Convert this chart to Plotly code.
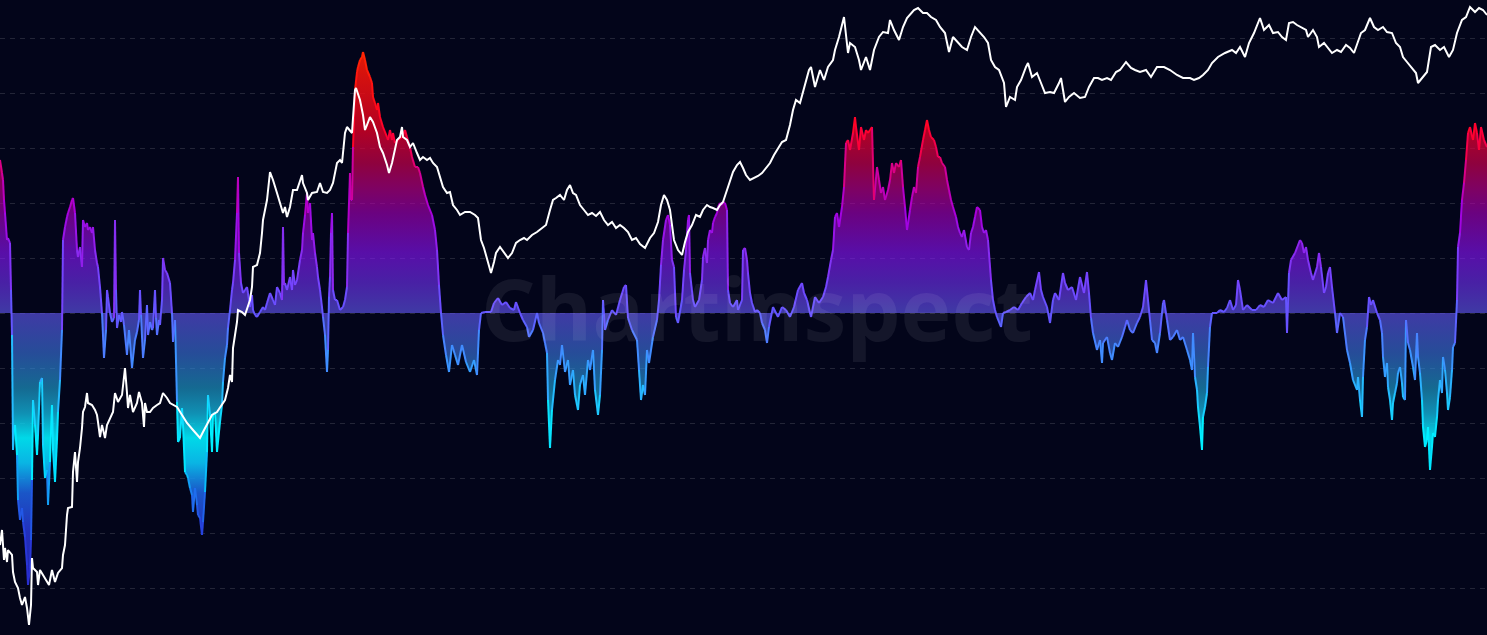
import plotly.graph_objects as go

# ---------------- data ----------------
# oscillator: day index and value (arbitrary units, 0 = neutral)
osc_day = [
    0, 2, 3, 4, 5, 7, 8, 10, 11, 12,
    13, 14, 15, 17, 18, 20, 22, 23, 25, 27,
    28, 30, 31, 32, 33, 35, 37, 38, 40, 42,
    43, 45, 47, 48, 50, 52, 53, 55, 57, 58,
    60, 62, 63, 65, 67, 68, 70, 72, 73, 75,
    77, 78, 80, 82, 83, 85, 87, 88, 90, 92,
    93, 95, 97, 98, 100, 102, 104, 106, 107, 108,
    110, 112, 114, 115, 116, 117, 119, 121, 122, 124,
    127, 129, 132, 133, 135, 137, 139, 140, 141, 143,
    145, 147, 148, 150, 152, 153, 155, 156, 157, 159,
    160, 162, 163, 165, 167, 170, 172, 173, 175, 177,
    178, 180, 182, 183, 185, 187, 188, 190, 192, 193,
    195, 197, 198, 200, 202, 203, 205, 207, 208, 210,
    212, 213, 215, 217, 218, 220, 222, 223, 225, 227,
    228, 230, 232, 233, 235, 237, 238, 239, 241, 243,
    245, 247, 248, 250, 252, 253, 255, 257, 260, 263,
    265, 267, 270, 273, 275, 277, 280, 282, 283, 284,
    285, 287, 290, 292, 293, 295, 297, 300, 302, 303,
    305, 307, 308, 310, 312, 313, 315, 317, 318, 320,
    322, 323, 325, 327, 328, 329, 330, 331, 332, 333,
    335, 337, 340, 343, 345, 347, 348, 350, 351, 352,
    353, 355, 357, 358, 360, 362, 363, 365, 367, 370,
    372, 373, 375, 377, 378, 380, 383, 387, 388, 390,
    392, 393, 395, 398, 402, 405, 407, 410, 412, 415,
    418, 420, 423, 425, 428, 432, 435, 437, 439, 441,
    443, 446, 449, 452, 455, 458, 462, 466, 470, 474,
    477, 479, 481, 485, 491, 494, 498, 502, 506, 510,
    514, 516, 520, 523, 527, 529, 533, 537, 539, 543,
    545, 547, 548, 550, 552, 555, 558, 560, 562, 565,
    568, 570, 573, 575, 578, 580, 583, 585, 588, 590,
    593, 595, 598, 600, 602, 603, 605, 608, 612, 616,
    620, 624, 626, 628, 632, 637, 639, 641, 643, 645,
    647, 649, 653, 657, 659, 661, 663, 666, 668, 670,
    672, 674, 676, 678, 682, 684, 686, 688, 689, 690,
    693, 695, 699, 702, 703, 705, 707, 708, 710, 712,
    713, 715, 717, 718, 720, 722, 723, 725, 727, 728,
    730, 733, 737, 738, 742, 743, 745, 747, 748, 750,
    752, 755, 757, 760, 762, 765, 767, 769, 773, 778,
    782, 786, 790, 794, 798, 802, 804, 807, 811, 815,
    819, 823, 826, 828, 831, 833, 835, 837, 839, 842,
    844, 846, 848, 850, 853, 855, 856, 859, 861, 864,
    866, 868, 870, 872, 874, 877, 879, 881, 883, 885,
    888, 890, 892, 894, 896, 899, 901, 903, 905, 907,
    910, 912, 914, 916, 918, 920, 923, 925, 927, 929,
    931, 934, 936, 938, 940, 942, 945, 947, 949, 951,
    953, 956, 958, 960, 962, 964, 967, 969, 971, 973,
    975, 977, 980, 982, 984, 986, 988, 991, 993, 995,
    997, 1001, 1003, 1006, 1010, 1014, 1018, 1022, 1026, 1030,
    1033, 1035, 1039, 1041, 1043, 1047, 1050, 1053, 1055, 1059,
    1063, 1065, 1068, 1072, 1076, 1080, 1084, 1087, 1089, 1091,
    1093, 1097, 1100, 1102, 1103, 1107, 1110, 1112, 1115, 1118,
    1122, 1125, 1127, 1130, 1133, 1137, 1140, 1143, 1146, 1148,
    1150, 1152, 1155, 1157, 1160, 1163, 1164, 1167, 1170, 1173,
    1177, 1180, 1183, 1187, 1190, 1192, 1193, 1195, 1197, 1198,
    1200, 1202, 1203, 1205, 1207, 1208, 1210, 1212, 1217, 1220,
    1224, 1227, 1230, 1233, 1236, 1238, 1240, 1243, 1247, 1252,
    1256, 1260, 1264, 1268, 1273, 1278, 1282, 1286, 1287, 1289,
    1291, 1295, 1300, 1302, 1304, 1306, 1308, 1311, 1313, 1317,
    1319, 1321, 1324, 1326, 1328, 1330, 1332, 1335, 1337, 1340,
    1343, 1347, 1350, 1353, 1357, 1358, 1360, 1362, 1363, 1365,
    1367, 1369, 1371, 1373, 1377, 1380, 1382, 1383, 1385, 1387,
    1388, 1390, 1392, 1393, 1395, 1397, 1398, 1400, 1402, 1403,
    1405, 1406, 1408, 1410, 1413, 1415, 1417, 1418, 1420, 1422,
    1423, 1425, 1427, 1428, 1430, 1432, 1433, 1435, 1437, 1438,
    1440, 1442, 1443, 1445, 1447, 1448, 1450, 1452, 1453, 1455,
    1457, 1458, 1460, 1462, 1464, 1466, 1468, 1470, 1473, 1475,
    1477, 1479, 1481, 1484, 1487,
]
osc_val = [
    153, 140, 133, 113, 100, 73, 75, 70, 23, -22,
    -137, -117, -112, -142, -187, -207, -195, -209, -224, -252,
    -272, -255, -227, -167, -87, -112, -142, -122, -69, -65,
    -132, -165, -157, -192, -149, -92, -137, -169, -127, -99,
    -67, -17, 73, 86, 96, 100, 106, 113, 115, 100,
    63, 56, 66, 46, 93, 86, 90, 83, 86, 80,
    86, 63, 50, 46, 26, 0, -45, -17, 23, 16,
    0, -9, -5, 93, 23, -15, -2, -9, 1, -12,
    -42, -17, -55, -45, -27, -19, -7, 23, -2, -45,
    -27, 8, -22, -9, -17, -15, 23, -5, -22, -7,
    -12, 13, 55, 43, 40, 30, 0, -29, -7, -89,
    -129, -125, -95, -112, -159, -162, -165, -175, -182, -199,
    -175, -192, -202, -205, -222, -209, -179, -139, -82, -102,
    -139, -102, -99, -139, -129, -109, -92, -69, -45, -32,
    -15, 3, 23, 30, 53, 100, 136, 60, 30, 20,
    23, 26, 20, 6, 18, 3, -2, -4, 1, 6,
    3, 10, 20, 13, 8, 26, 20, 13, 86, 28,
    30, 23, 36, 23, 43, 28, 33, 53, 63, 80,
    98, 120, 100, 110, 73, 80, 60, 46, 36, 23,
    6, -4, -22, -59, -37, 16, 36, 80, 100, 23,
    13, 13, 3, 6, 13, 26, 80, 140, 113, 113,
    166, 223, 241, 246, 253, 256, 261, 253, 243, 236,
    230, 216, 210, 203, 210, 196, 186, 176, 173, 183,
    173, 180, 170, 173, 176, 183, 176, 166, 156, 146,
    146, 140, 126, 118, 108, 98, 83, 63, 28, 0,
    -22, -42, -59, -32, -42, -52, -32, -49, -59, -47,
    -62, -17, 0, 1, 1, 10, 15, 8, 11, 5,
    3, 11, 0, -7, -14, -24, -17, 0, -10, -20,
    -30, -40, -87, -135, -97, -67, -47, -52, -32, -59,
    -47, -72, -57, -82, -97, -72, -62, -82, -47, -57,
    -37, -77, -102, -82, -37, 13, -17, -7, 3, -2,
    13, 26, 28, -5, -17, -27, -57, -87, -72, -82,
    -37, -50, -24, -7, 13, 48, 73, 93, 98, 88,
    53, 46, -4, -10, 13, 43, 63, 93, 98, 40,
    13, 6, 13, 33, 56, 65, 50, 73, 83, 80,
    90, 96, 100, 106, 110, 108, 111, 110, 103, 23,
    10, 6, 13, 3, 13, 63, 65, 53, 40, 20,
    10, 1, 3, 0, -10, -17, -30, -14, 6, -4,
    6, 3, -4, 6, 23, 30, 20, 13, -4, 16,
    10, 16, 26, 36, 53, 63, 96, 100, 86, 106,
    126, 170, 173, 163, 180, 196, 186, 163, 186, 173,
    183, 180, 183, 186, 113, 146, 133, 120, 126, 113,
    123, 133, 150, 140, 150, 146, 153, 126, 106, 83,
    103, 116, 126, 120, 146, 156, 173, 183, 193, 183,
    176, 173, 166, 156, 156, 150, 146, 133, 123, 113,
    106, 96, 86, 80, 76, 83, 66, 63, 80, 86,
    96, 106, 103, 86, 80, 83, 73, 33, 13, 3,
    -4, -14, 0, 1, 3, 6, 3, 10, 16, 20,
    13, 23, 41, 23, 16, 6, -10, 13, 20, 13,
    40, 30, 23, 26, 13, 36, 20, 41, 20, -5,
    -20, -37, -27, -50, -30, -24, -40, -47, -30, -34,
    -24, -14, -7, -17, -20, -10, -4, 6, 33, 13,
    -7, -27, -30, -40, -20, 10, 13, -7, -27, -24,
    -17, -27, -24, -37, -47, -57, -20, -64, -77, -94,
    -114, -137, -104, -94, -80, -54, -14, 0, 0, 3,
    1, 5, 13, 3, 8, 33, 23, 3, 8, 3,
    3, 8, 6, 13, 10, 20, 13, 16, -20, 40,
    53, 60, 73, 70, 60, 66, 53, 40, 33, 46,
    60, 46, 20, 26, 40, 46, 26, 0, -20, 0,
    -4, -37, -50, -67, -77, -64, -87, -104, -64, -27,
    -14, 16, 8, 13, 0, -7, -20, -44, -64, -50,
    -74, -87, -107, -90, -80, -70, -60, -54, -70, -84,
    -87, -7, -30, -37, -54, -67, -20, -44, -60, -87,
    -114, -134, -127, -114, -157, -134, -120, -124, -104, -87,
    -67, -80, -44, -57, -80, -97, -84, -57, -34, -30,
    13, 66, 80, 113, 130, 153, 180, 186, 173, 190,
    180, 163, 186, 173, 166,
]

# price series: day index and price level (arbitrary units)
price_day = [
    0, 2, 4, 5, 7, 8, 12, 13, 15, 18,
    20, 22, 25, 27, 29, 31, 32, 33, 37, 38,
    40, 43, 47, 49, 52, 55, 58, 62, 63, 65,
    67, 68, 72, 73, 75, 77, 78, 80, 82, 83,
    85, 87, 88, 92, 95, 97, 98, 100, 102, 103,
    105, 107, 110, 113, 115, 118, 122, 125, 127, 128,
    130, 133, 137, 139, 142, 144, 145, 147, 150, 153,
    157, 160, 163, 167, 170, 173, 177, 182, 187, 193,
    200, 203, 207, 212, 217, 222, 225, 228, 230, 232,
    233, 235, 237, 238, 242, 245, 250, 252, 253, 257,
    260, 262, 263, 265, 267, 270, 273, 277, 280, 283,
    285, 287, 290, 293, 297, 300, 302, 303, 307, 308,
    312, 317, 320, 323, 327, 330, 333, 337, 340, 342,
    345, 347, 348, 352, 353, 355, 356, 358, 360, 363,
    365, 367, 370, 373, 377, 380, 383, 387, 389, 392,
    395, 397, 400, 402, 403, 407, 410, 413, 417, 420,
    423, 427, 430, 433, 437, 440, 443, 447, 450, 453,
    457, 460, 465, 470, 475, 478, 481, 484, 487, 491,
    494, 496, 500, 504, 508, 512, 516, 520, 524, 527,
    532, 537, 542, 546, 550, 553, 556, 560, 564, 567,
    570, 573, 576, 580, 584, 588, 592, 596, 600, 604,
    608, 612, 616, 620, 624, 628, 632, 636, 640, 645,
    650, 654, 658, 661, 664, 667, 670, 674, 678, 682,
    685, 688, 692, 696, 700, 703, 707, 710, 713, 717,
    720, 723, 727, 730, 733, 737, 740, 743, 746, 750,
    754, 758, 762, 766, 770, 774, 778, 782, 786, 790,
    793, 796, 800, 804, 809, 811, 815, 820, 824, 828,
    833, 835, 839, 844, 846, 848, 850, 855, 859, 861,
    866, 870, 874, 879, 883, 888, 890, 894, 899, 903,
    907, 914, 918, 923, 927, 931, 936, 940, 945, 949,
    953, 958, 962, 967, 971, 975, 980, 984, 988, 991,
    995, 999, 1004, 1006, 1010, 1015, 1017, 1021, 1026, 1028,
    1032, 1037, 1041, 1045, 1050, 1054, 1059, 1061, 1063, 1065,
    1069, 1074, 1080, 1085, 1089, 1094, 1098, 1102, 1107, 1111,
    1116, 1120, 1126, 1131, 1135, 1140, 1146, 1151, 1157, 1164,
    1170, 1177, 1183, 1190, 1194, 1199, 1203, 1208, 1212, 1218,
    1225, 1232, 1236, 1240, 1245, 1249, 1254, 1258, 1260, 1264,
    1269, 1273, 1278, 1282, 1286, 1289, 1293, 1297, 1302, 1306,
    1308, 1313, 1317, 1319, 1324, 1328, 1332, 1337, 1341, 1346,
    1350, 1354, 1357, 1361, 1365, 1370, 1374, 1378, 1383, 1387,
    1392, 1396, 1400, 1403, 1407, 1411, 1416, 1418, 1422, 1427,
    1431, 1435, 1440, 1444, 1449, 1453, 1457, 1462, 1466, 1470,
    1475, 1479, 1483, 1487,
]
price_val = [
    90, 105, 75, 87, 73, 85, 80, 63, 53, 47,
    37, 30, 38, 27, 10, 30, 77, 67, 63, 50,
    65, 60, 53, 50, 65, 53, 62, 67, 80, 90,
    120, 127, 128, 163, 183, 153, 173, 187, 207, 223,
    228, 242, 232, 230, 225, 220, 213, 198, 210, 205,
    197, 210, 217, 223, 242, 233, 240, 267, 242, 227,
    240, 223, 232, 243, 232, 208, 232, 223, 223, 227,
    230, 232, 242, 237, 232, 230, 228, 220, 212, 205,
    197, 203, 210, 220, 223, 230, 235, 247, 260, 253,
    287, 300, 313, 325, 323, 320, 335, 348, 368, 370,
    382, 402, 415, 425, 435, 463, 455, 442, 432, 422,
    428, 418, 428, 445, 445, 453, 460, 452, 442, 435,
    442, 443, 452, 443, 442, 445, 452, 472, 475, 472,
    502, 508, 507, 502, 517, 545, 547, 540, 535, 520,
    505, 510, 518, 513, 502, 488, 482, 470, 462, 472,
    488, 495, 498, 508, 498, 495, 488, 492, 482, 475,
    478, 475, 477, 472, 468, 458, 448, 442, 443, 430,
    425, 420, 423, 423, 420, 417, 395, 387, 375, 362,
    373, 382, 388, 383, 377, 382, 392, 395, 397, 395,
    400, 403, 407, 410, 425, 435, 437, 440, 435, 445,
    450, 442, 440, 430, 425, 420, 422, 419, 423, 415,
    410, 413, 407, 410, 407, 403, 395, 397, 391, 387,
    397, 402, 413, 430, 440, 435, 425, 395, 385, 380,
    393, 403, 410, 420, 418, 425, 430, 428, 427, 425,
    430, 433, 445, 455, 463, 470, 473, 467, 460, 455,
    457, 459, 462, 467, 472, 480, 487, 493, 495, 510,
    525, 535, 532, 548, 565, 568, 548, 565, 555, 568,
    575, 585, 598, 618, 602, 582, 592, 588, 575, 565,
    578, 565, 585, 598, 603, 602, 615, 605, 595, 608,
    617, 625, 627, 622, 622, 618, 615, 608, 602, 583,
    598, 592, 588, 585, 598, 608, 602, 598, 592, 575,
    568, 565, 552, 528, 538, 535, 548, 555, 568, 572,
    558, 562, 552, 542, 543, 542, 552, 557, 545, 533,
    538, 542, 537, 538, 548, 557, 557, 555, 557, 555,
    563, 565, 573, 567, 565, 563, 565, 558, 568, 568,
    565, 560, 557, 557, 555, 557, 560, 565, 572, 578,
    582, 585, 582, 588, 578, 592, 602, 612, 617, 605,
    610, 602, 603, 598, 595, 612, 613, 610, 607, 605,
    598, 605, 598, 588, 592, 587, 582, 585, 583, 590,
    587, 582, 590, 602, 605, 617, 608, 605, 608, 603,
    602, 592, 588, 578, 573, 568, 562, 552, 557, 563,
    588, 590, 585, 588, 578, 585, 602, 615, 618, 628,
    623, 627, 625, 620,
]

# ---------------- styling ----------------
BG = "#03051a"
OSC_RANGE = [-322, 313]
PRICE_RANGE = [0, 635]
GRID_STEP = 55

line_stops = [
    (-280, (42, 42, 204)), (-220, (40, 62, 220)), (-180, (30, 115, 240)),
    (-150, (0, 225, 255)), (-120, (0, 240, 255)), (-90, (30, 200, 255)),
    (-50, (58, 150, 255)), (-20, (80, 120, 255)), (0, (100, 85, 255)),
    (30, (115, 70, 255)), (60, (138, 42, 240)), (100, (165, 0, 224)),
    (135, (205, 0, 160)), (158, (235, 0, 95)), (180, (255, 0, 48)),
    (220, (255, 15, 20)), (265, (255, 42, 0)),
]

fill_stops = [
    (-280, "rgba(40,40,200,0.85)"), (-220, "rgba(40,55,215,0.85)"),
    (-180, "rgba(30,100,230,0.85)"), (-150, "rgba(10,200,250,0.9)"),
    (-125, "rgba(0,240,255,0.9)"), (-100, "rgba(20,190,230,0.75)"),
    (-75, "rgba(30,160,210,0.65)"), (-40, "rgba(60,120,230,0.62)"),
    (0, "rgba(100,90,250,0.62)"), (30, "rgba(115,50,250,0.62)"),
    (60, "rgba(140,20,255,0.62)"), (100, "rgba(170,0,190,0.62)"),
    (125, "rgba(200,0,140,0.63)"), (150, "rgba(215,0,80,0.66)"),
    (185, "rgba(240,0,35,0.75)"), (265, "rgba(255,30,0,0.9)"),
]


def color_at(v):
    if v <= line_stops[0][0]:
        c = line_stops[0][1]
    elif v >= line_stops[-1][0]:
        c = line_stops[-1][1]
    else:
        for (v0, c0), (v1, c1) in zip(line_stops[:-1], line_stops[1:]):
            if v0 <= v <= v1:
                t = (v - v0) / (v1 - v0)
                c = tuple(int(round(a + (b - a) * t)) for a, b in zip(c0, c1))
                break
    return "rgb(%d,%d,%d)" % c


fig = go.Figure()

# price line (drawn first, under the oscillator fill)
fig.add_trace(go.Scatter(
    x=price_day, y=price_val, yaxis="y2", mode="lines",
    line=dict(color="#ffffff", width=2), hoverinfo="skip", showlegend=False,
))

# oscillator gradient fill
f0, f1 = fill_stops[0][0], fill_stops[-1][0]
fig.add_trace(go.Scatter(
    x=osc_day, y=osc_val, mode="lines", fill="tozeroy",
    line=dict(width=0, color="rgba(0,0,0,0)"),
    fillgradient=dict(
        type="vertical",
        colorscale=[[(v - f0) / (f1 - f0), c] for v, c in fill_stops],
        start=f0, stop=f1,
    ),
    hoverinfo="skip", showlegend=False,
))

# oscillator line coloured by level
BIN = 8
groups = {}
for i in range(len(osc_day) - 1):
    m = (osc_val[i] + osc_val[i + 1]) / 2.0
    key = int(round(m / BIN))
    xs, ys = groups.setdefault(key, ([], []))
    xs += [osc_day[i], osc_day[i + 1], None]
    ys += [osc_val[i], osc_val[i + 1], None]
for key in sorted(groups):
    xs, ys = groups[key]
    fig.add_trace(go.Scatter(
        x=xs, y=ys, mode="lines",
        line=dict(color=color_at(key * BIN), width=2),
        hoverinfo="skip", showlegend=False,
    ))

fig.add_annotation(
    text="Chartinspect", xref="paper", yref="paper", x=0.509, y=0.515,
    showarrow=False, xanchor="center", yanchor="middle",
    font=dict(family="Open Sans", size=86, color="rgba(255,255,255,0.07)", weight=700),
)

fig.update_layout(
    width=1487, height=635,
    margin=dict(l=0, r=0, t=0, b=0),
    paper_bgcolor=BG, plot_bgcolor=BG,
    xaxis=dict(range=[0, 1487], visible=False, fixedrange=True),
    yaxis=dict(
        range=OSC_RANGE, showticklabels=False, zeroline=False,
        showgrid=True, gridcolor="rgba(255,255,255,0.13)", griddash="5px,5px",
        gridwidth=1, tick0=0, dtick=GRID_STEP, ticks="", showline=False,
        fixedrange=True,
    ),
    yaxis2=dict(
        range=PRICE_RANGE, overlaying="y", visible=False, showgrid=False,
        fixedrange=True,
    ),
    showlegend=False,
)

fig.write_html(
    "out.html",
    config={"displayModeBar": False},
    post_script="document.body.style.margin='0';document.body.style.overflow='hidden';"
                "document.body.style.background='" + BG + "';",
)
